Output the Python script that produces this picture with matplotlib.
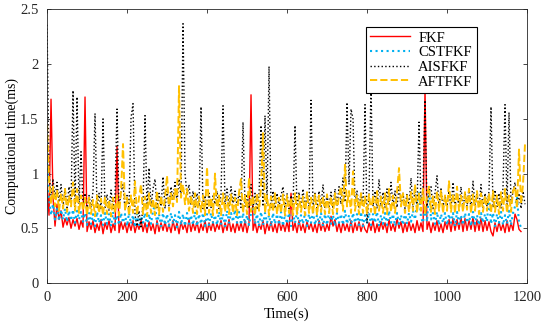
import numpy as np
import matplotlib
matplotlib.use('Agg')
import matplotlib.pyplot as plt

plt.rcParams['font.family'] = ['Liberation Serif', 'DejaVu Serif']

step = 5  # sampling interval of the values below (s)

# FKF computational time (ms)
fkf = [
    0.88, 0.62, 1.68, 0.78, 0.52, 0.72, 0.58, 0.66, 0.51, 0.59, 0.53, 0.60, 0.50, 0.58, 0.52, 0.59, 0.49, 0.57, 0.51, 1.70,
    0.47, 0.56, 0.49, 0.57, 0.46, 0.54, 0.48, 0.58, 0.45, 0.55, 0.49, 0.57, 0.46, 0.54, 0.48, 1.25, 0.46, 0.56, 0.49, 0.55,
    0.46, 0.55, 0.48, 0.57, 0.46, 0.54, 0.49, 0.58, 0.47, 0.55, 0.46, 0.56, 0.48, 0.54, 0.45, 0.57, 0.47, 0.55, 0.48, 0.56,
    0.47, 0.54, 0.46, 0.57, 0.48, 0.55, 0.45, 0.56, 0.49, 0.54, 0.46, 0.58, 0.47, 0.55, 0.48, 0.56, 0.46, 0.54, 0.48, 0.57,
    0.46, 0.55, 0.48, 0.56, 0.47, 0.54, 0.49, 0.57, 0.46, 0.55, 0.48, 0.58, 0.47, 0.54, 0.46, 0.56, 0.48, 0.55, 0.47, 0.57,
    0.46, 0.55, 1.72, 0.48, 0.56, 0.46, 0.54, 0.49, 0.57, 0.45, 0.55, 0.48, 0.56, 0.47, 0.54, 0.46, 0.57, 0.48, 0.55, 0.47,
    0.56, 0.47, 0.82, 0.48, 0.55, 0.46, 0.57, 0.48, 0.54, 0.46, 0.56, 0.49, 0.55, 0.47, 0.54, 0.46, 0.57, 0.48, 0.55, 0.47,
    0.54, 0.48, 0.61, 0.52, 0.58, 0.47, 0.55, 0.46, 0.56, 0.48, 0.54, 0.47, 0.57, 0.46, 0.55, 0.48, 0.56, 0.47, 0.54, 0.49,
    0.46, 0.55, 0.48, 0.57, 0.46, 0.54, 0.47, 0.56, 0.49, 0.55, 0.46, 0.58, 0.48, 0.54, 0.47, 0.59, 0.50, 0.56, 0.46, 0.55,
    0.47, 0.56, 0.48, 0.54, 0.46, 0.57, 0.48, 0.55, 0.47, 1.78, 0.49, 0.56, 0.46, 0.55, 0.48, 0.57, 0.47, 0.54, 0.46, 0.56,
    0.49, 0.58, 0.47, 0.59, 0.48, 0.58, 0.49, 0.60, 0.47, 0.59, 0.48, 0.57, 0.49, 0.60, 0.47, 0.58, 0.48, 0.59, 0.47, 0.57,
    0.48, 0.56, 0.47, 0.43, 0.55, 0.47, 0.56, 0.48, 0.54, 0.46, 0.57, 0.47, 0.55, 0.48, 0.63, 0.58, 0.49, 0.47,
]

# CSTFKF
cstfkf = [
    1.10, 0.78, 0.62, 0.72, 0.58, 0.68, 0.57, 0.67, 0.58, 0.68, 0.56, 0.66, 0.57, 0.67, 0.55, 0.66, 0.58, 0.65, 0.56, 0.64,
    0.53, 0.64, 0.54, 0.63, 0.52, 0.65, 0.55, 0.62, 0.53, 0.64, 0.54, 0.63, 0.52, 0.65, 0.54, 0.62, 0.53, 0.64, 0.55, 0.63,
    0.52, 0.64, 0.54, 0.62, 0.51, 0.63, 0.53, 0.61, 0.55, 0.64, 0.52, 0.63, 0.54, 0.66, 0.71, 0.54, 0.63, 0.52, 0.64, 0.53,
    0.63, 0.52, 0.64, 0.54, 0.62, 0.51, 0.65, 0.53, 0.63, 0.52, 0.64, 0.54, 0.62, 0.53, 0.65, 0.52, 0.63, 0.54, 0.64, 0.52,
    0.63, 0.53, 0.64, 0.55, 0.62, 0.53, 0.65, 0.54, 0.63, 0.52, 0.66, 0.55, 0.64, 0.56, 0.67, 0.55, 0.65, 0.53, 0.64, 0.54,
    0.62, 0.53, 0.64, 0.75, 0.54, 0.63, 0.52, 0.65, 0.53, 0.64, 0.55, 0.62, 0.52, 0.64, 0.54, 0.63, 0.53, 0.65, 0.52, 0.63,
    0.54, 0.64, 0.52, 0.63, 0.55, 0.65, 0.53, 0.62, 0.54, 0.64, 0.52, 0.63, 0.55, 0.65, 0.53, 0.62, 0.54, 0.64, 0.52, 0.63,
    0.53, 0.65, 0.54, 0.62, 0.52, 0.64, 0.55, 0.63, 0.53, 0.66, 0.54, 0.62, 0.52, 0.64, 0.55, 0.63, 0.53, 0.65, 0.52, 0.62,
    0.54, 0.64, 0.53, 0.63, 0.55, 0.65, 0.52, 0.62, 0.54, 0.64, 0.53, 0.66, 0.55, 0.63, 0.52, 0.64, 0.54, 0.62, 0.53, 0.65,
    0.54, 0.64, 0.56, 0.66, 0.58, 0.72, 0.84, 0.60, 0.55, 0.70, 0.56, 0.86, 0.58, 0.64, 0.54, 0.65, 0.53, 0.63, 0.55, 0.64,
    0.53, 0.63, 0.55, 0.64, 0.52, 0.65, 0.54, 0.62, 0.53, 0.64, 0.55, 0.63, 0.52, 0.65, 0.54, 0.62, 0.53, 0.64, 0.55, 0.63,
    0.56, 0.80, 0.54, 0.64, 0.52, 0.63, 0.55, 0.65, 0.53, 0.62, 0.54, 0.66, 0.53, 0.64, 0.70, 0.78, 0.55, 0.51,
]

# AISFKF
aisfkf = [
    2.36, 1.02, 0.80, 0.95, 0.78, 0.92, 0.74, 0.90, 0.70, 0.86, 0.69, 0.88, 0.72, 1.76, 0.70, 1.70, 0.72, 1.20, 0.70, 0.82,
    0.67, 0.80, 0.69, 0.84, 1.55, 0.68, 0.82, 0.67, 1.50, 0.69, 0.81, 0.66, 0.85, 0.68, 0.80, 1.59, 0.69, 0.83, 0.90, 0.67,
    0.80, 0.68, 1.51, 1.64, 0.62, 0.52, 0.66, 0.50, 0.72, 1.53, 0.68, 1.05, 0.70, 0.86, 0.95, 0.69, 0.82, 0.70, 0.97, 0.68,
    0.84, 0.70, 0.88, 0.76, 0.92, 0.74, 0.95, 0.78, 2.37, 1.00, 0.80, 0.90, 0.71, 0.84, 0.69, 0.82, 0.70, 1.61, 0.68, 0.80,
    0.67, 0.82, 0.69, 0.80, 0.72, 0.84, 0.68, 0.81, 1.62, 0.72, 0.86, 0.70, 0.88, 0.73, 0.84, 0.71, 0.82, 0.69, 1.47, 0.70,
    0.81, 0.68, 0.90, 0.69, 0.82, 0.67, 0.80, 1.44, 0.70, 1.53, 0.72, 1.98, 0.69, 0.84, 0.68, 0.82, 0.70, 0.80, 0.88, 0.68,
    0.82, 0.68, 0.80, 0.70, 1.44, 0.67, 0.83, 0.69, 0.86, 0.68, 0.81, 0.70, 1.67, 0.69, 0.82, 0.67, 0.84, 0.70, 0.90, 0.68,
    0.80, 0.70, 0.83, 0.68, 0.86, 0.70, 0.88, 0.72, 0.96, 0.74, 1.65, 0.90, 1.59, 1.50, 0.72, 0.84, 0.68, 0.82, 0.70, 1.63,
    0.55, 0.80, 1.82, 0.70, 0.84, 0.68, 0.95, 0.70, 0.83, 0.69, 0.86, 0.72, 0.92, 0.70, 0.84, 0.69, 0.88, 0.70, 0.82, 0.68,
    0.82, 0.70, 0.96, 0.69, 0.85, 0.70, 1.47, 0.72, 0.86, 1.67, 0.70, 0.84, 0.88, 0.68, 0.82, 0.98, 0.70, 0.86, 0.69, 0.80,
    0.70, 0.84, 0.68, 0.92, 0.70, 0.82, 0.69, 0.88, 0.67, 0.83, 0.70, 0.86, 0.68, 0.93, 0.70, 0.81, 0.69, 0.90, 0.68, 0.82,
    0.70, 0.84, 1.61, 0.69, 0.85, 0.70, 0.82, 0.68, 0.87, 1.63, 0.70, 1.56, 0.72, 0.84, 0.92, 0.70, 0.82, 0.68, 0.84, 0.72,
]

# AFTFKF
aftfkf = [
    1.45, 0.95, 0.72, 0.88, 0.70, 0.85, 0.66, 0.82, 0.68, 0.86, 0.65, 0.80, 0.70, 0.92, 0.66, 0.86, 0.64, 0.80, 0.66, 0.78,
    0.62, 0.78, 0.63, 0.76, 0.61, 0.80, 0.64, 0.77, 0.62, 0.79, 0.63, 0.76, 0.61, 0.78, 0.64, 0.80, 0.62, 0.84, 1.27, 0.66,
    0.78, 0.62, 0.80, 0.64, 0.93, 0.62, 0.78, 0.90, 0.63, 0.79, 0.61, 0.82, 0.64, 0.77, 0.62, 0.84, 0.63, 0.80, 0.65, 0.78,
    0.98, 0.66, 0.82, 0.70, 0.86, 0.74, 1.80, 0.78, 0.90, 0.72, 0.86, 0.66, 0.80, 0.64, 0.82, 0.63, 0.79, 0.65, 0.80, 0.62,
    1.06, 0.64, 0.78, 0.62, 1.00, 0.64, 0.80, 0.62, 0.82, 0.65, 0.79, 0.63, 0.81, 0.64, 0.78, 0.62, 0.83, 0.95, 0.64, 0.80,
    0.63, 0.96, 0.65, 0.80, 0.62, 0.82, 0.66, 0.88, 1.37, 0.64, 0.80, 0.62, 0.79, 0.65, 0.82, 0.63, 0.78, 0.64, 0.81, 0.62,
    0.80, 0.64, 0.78, 0.62, 0.82, 0.63, 0.80, 0.65, 0.79, 0.62, 0.83, 0.64, 0.78, 0.63, 0.81, 0.62, 0.80, 0.65, 0.79, 0.63,
    0.81, 0.64, 0.79, 0.63, 0.82, 0.65, 0.80, 0.88, 0.66, 1.08, 0.70, 0.84, 0.64, 1.02, 0.66, 0.80, 0.63, 0.82, 0.64, 0.79,
    0.63, 0.81, 0.65, 0.80, 0.62, 0.84, 0.66, 0.79, 0.64, 0.82, 0.63, 0.86, 0.65, 0.80, 0.64, 0.83, 1.05, 0.70, 0.82, 0.64,
    0.80, 0.65, 0.83, 0.66, 0.90, 0.64, 0.82, 0.66, 0.86, 0.63, 0.81, 0.88, 0.65, 0.80, 0.63, 0.84, 0.66, 0.85, 0.64, 0.80,
    0.66, 0.93, 0.65, 0.82, 0.64, 0.88, 0.66, 0.80, 0.65, 0.83, 0.67, 0.86, 0.64, 0.81, 0.66, 0.84, 0.63, 0.82, 0.65, 0.80,
    0.66, 0.82, 0.64, 0.84, 0.65, 0.80, 0.63, 0.83, 0.66, 0.86, 0.64, 0.80, 0.65, 0.84, 0.88, 0.68, 1.22, 0.72, 0.90, 1.27,
]

labels = ['FKF', 'CSTFKF', 'AISFKF', 'AFTFKF']
series = [fkf, cstfkf, aisfkf, aftfkf]
colors = ['#FF0000', '#00B0F0', '#000000', '#FFC000']
styles = ['-', ':', ':', '--']
widths = [1.0, 1.5, 1.0, 1.4]

fig = plt.figure(figsize=(5.5, 3.27), dpi=100)
ax = fig.add_axes([0.0855, 0.1346, 0.8727, 0.8364])

for vals, lab, c, ls, lw in zip(series, labels, colors, styles, widths):
    t = np.arange(len(vals)) * step
    ax.plot(t, vals, color=c, linestyle=ls, lw=lw, label=lab)

ax.set_xlim(0, 1200)
ax.set_ylim(0, 2.5)
ax.set_xticks(np.arange(0, 1201, 200))
ax.set_yticks(np.arange(0, 2.51, 0.5))
ax.set_yticklabels(['0', '0.5', '1', '1.5', '2', '2.5'])
ax.tick_params(direction='in', top=True, right=True, labelsize=10.5, length=3,
               width=0.6, colors='#262626', pad=6)
for sp in ax.spines.values():
    sp.set_linewidth(0.6)
    sp.set_color('#262626')

ax.set_xlabel('Time(s)', fontsize=10.5, labelpad=2)
ax.set_ylabel('Computational time(ms)', fontsize=10, labelpad=0.5)

leg = ax.legend(loc='upper right', bbox_to_anchor=(0.896, 0.936), borderaxespad=0,
                fancybox=False, edgecolor='black', framealpha=1, fontsize=10.5,
                handlelength=2.7, labelspacing=0.1, borderpad=0.3, handletextpad=0.6)
leg.get_frame().set_linewidth(0.8)

plt.savefig('out.png', dpi=100)
plt.close(fig)
